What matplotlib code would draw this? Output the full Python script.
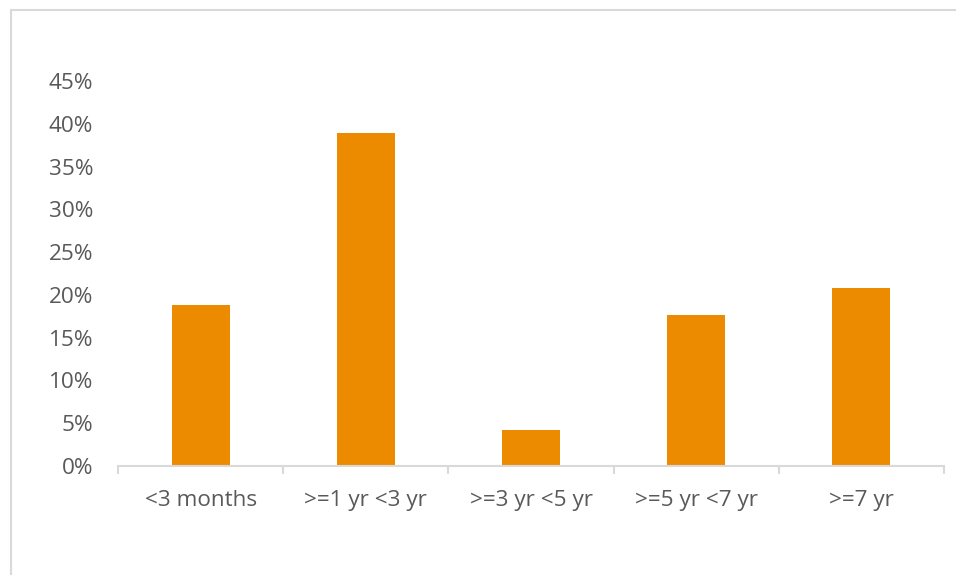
import matplotlib
matplotlib.use("Agg")
import matplotlib.pyplot as plt
from matplotlib.patches import Rectangle
from matplotlib.ticker import PercentFormatter

categories = ["<3 months", ">=1 yr <3 yr", ">=3 yr <5 yr", ">=5 yr <7 yr", ">=7 yr"]
shares = [0.188, 0.389, 0.042, 0.176, 0.208]
y_ticks = [0.0, 0.05, 0.10, 0.15, 0.20, 0.25, 0.30, 0.35, 0.40, 0.45]

plt.rcParams["font.family"] = ["Open Sans", "DejaVu Sans"]
text_color = "#595959"
axis_color = "#D9D9D9"
bar_color = "#ED8B00"
label_size = 16.2

W, H = 956, 575
fig = plt.figure(figsize=(W / 100, H / 100), dpi=100)

# outer chart frame
fig.patches.append(Rectangle((11 / W, -0.05), 1.1, 1 - 10 / H + 0.05,
                             transform=fig.transFigure, fill=False,
                             edgecolor=axis_color, linewidth=1.5))

ax = fig.add_axes([118 / W, 1 - 466 / H, (944 - 118) / W, (466 - 81) / H])
x = list(range(len(categories)))
ax.bar(x, shares, width=0.35, color=bar_color, zorder=2)

ax.set_xlim(-0.5, len(categories) - 0.5)
ax.set_ylim(0, 0.45)
ax.set_yticks(y_ticks)
ax.yaxis.set_major_formatter(PercentFormatter(1.0, decimals=0))
ax.tick_params(axis="y", length=0, pad=18, labelsize=label_size, labelcolor=text_color)

# category labels at centres, tick marks at category boundaries
ax.set_xticks([i - 0.5 for i in range(len(categories) + 1)])
ax.set_xticklabels([])
ax.tick_params(axis="x", which="major", length=6, width=1.5, color=axis_color)
ax.set_xticks(x, minor=True)
ax.set_xticklabels(categories, minor=True)
ax.tick_params(axis="x", which="minor", length=0, pad=17.5, labelsize=label_size,
               labelcolor=text_color)

for side in ["top", "right", "left"]:
    ax.spines[side].set_visible(False)
ax.spines["bottom"].set_color(axis_color)
ax.spines["bottom"].set_linewidth(1.5)

fig.savefig("out.png", dpi=100)
